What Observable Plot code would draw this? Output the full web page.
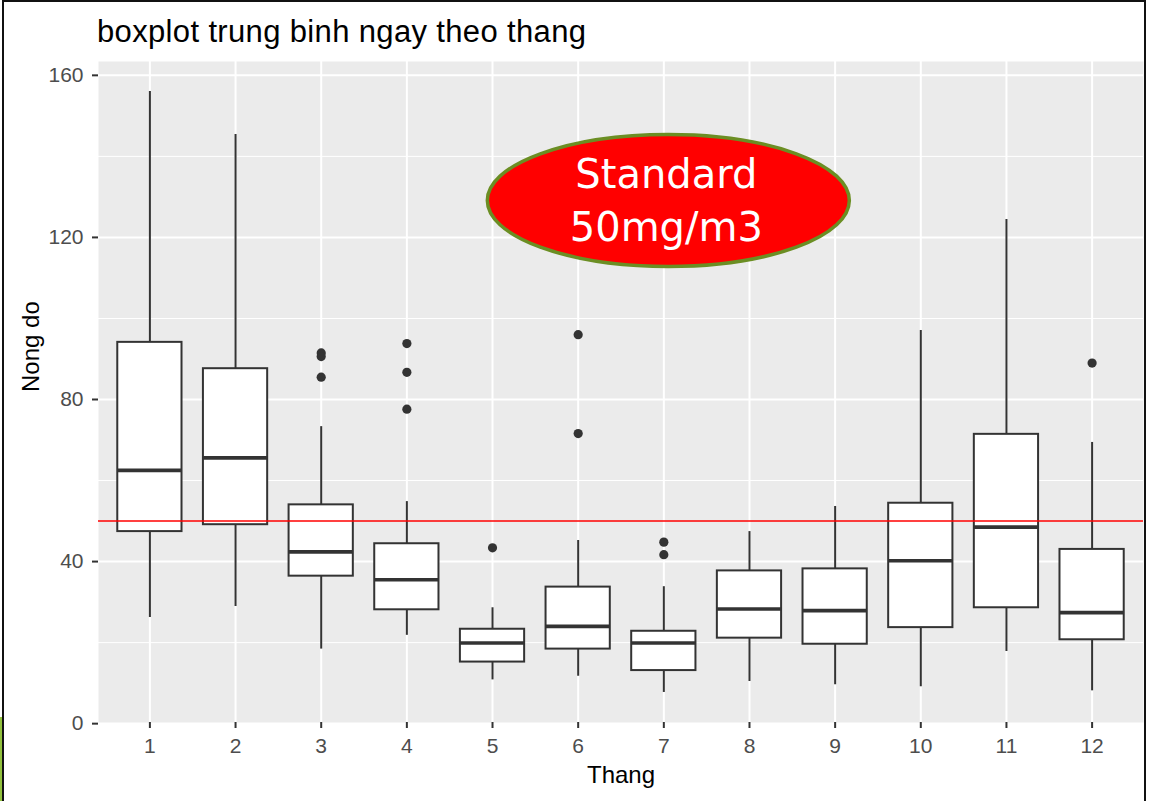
<!DOCTYPE html>
<html>
<head>
<meta charset="utf-8">
<script src="https://cdn.jsdelivr.net/npm/d3@7"></script>
<script src="https://cdn.jsdelivr.net/npm/@observablehq/plot@0.6"></script>
<style>
  html, body { margin: 0; padding: 0; background: #fff; }
  #wrap { position: relative; width: 1150px; height: 801px; overflow: hidden; background: #fff; }
  #chart { position: absolute; left: 0; top: 0; }
  #title { position: absolute; left: 97px; top: 16px; font-family: "Liberation Sans", Arial, sans-serif;
           font-size: 31px; line-height: 31px; letter-spacing: 0.35px; color: #000; white-space: nowrap; }
  #border { position: absolute; left: 2px; top: 0; width: 1144px; height: 801px;
            border-top: 2px solid #111; border-left: 2px solid #111; border-right: 2px solid #111; box-sizing: border-box; pointer-events: none; }
  #sliver { position: absolute; left: 0; top: 717px; width: 2px; height: 84px; background: #92C13E; }
</style>
</head>
<body>
<div id="wrap">
  <div id="chart"></div>
  <div id="title">boxplot trung binh ngay theo thang</div>
  <div id="border"></div>
  <div id="sliver"></div>
</div>
<script>
// ---- data ----
const months = ["1","2","3","4","5","6","7","8","9","10","11","12"];
const whiskerLow  = [26.2, 28.9, 18.4, 21.8, 10.8, 11.7,  7.7, 10.4,  9.6,  9.1, 17.8,  8.1];
const q1          = [47.4, 49.1, 36.4, 28.1, 15.2, 18.4, 13.1, 21.1, 19.6, 23.7, 28.6, 20.7];
const median      = [62.5, 65.6, 42.4, 35.5, 19.9, 24.0, 19.9, 28.3, 27.9, 40.2, 48.5, 27.4];
const q3          = [94.1, 87.6, 54.0, 44.4, 23.3, 33.7, 22.8, 37.7, 38.2, 54.4, 71.4, 43.0];
const whiskerHigh = [156.0, 145.4, 73.3, 54.8, 28.6, 45.2, 33.8, 47.4, 53.6, 97.0, 124.4, 69.4];
const outlierMonth = ["3","3","3","4","4","4","5","6","6","7","7","12"];
const outlierValue = [91.5, 90.6, 85.5, 93.8, 86.7, 77.6, 43.4, 96.0, 71.6, 44.8, 41.7, 89.0];
const standardLevel = [50];
const yTicks = [0, 40, 80, 120, 160];
const yMinorGrid = [20, 60, 100, 140];
const calloutLines = ["Standard", "50mg/m3"];
const calloutMonth = "7";
const calloutValue = 129;

const boxes = months.map((m, i) => ({month: m, lo: whiskerLow[i], q1: q1[i], med: median[i], q3: q3[i], hi: whiskerHigh[i]}));
const outliers = outlierMonth.map((m, i) => ({month: m, value: outlierValue[i]}));

// ggplot-like 5% expansion of the continuous scale
const allVals = whiskerLow.concat(whiskerHigh, outlierValue);
const vmin = d3.min(allVals), vmax = d3.max(allVals), pad = (vmax - vmin) * 0.05;

const dark = "#333333";
const plot = Plot.plot({
  width: 1150,
  height: 801,
  marginLeft: 98,
  marginRight: 7,
  marginTop: 61,
  marginBottom: 79,
  style: {fontFamily: "'Liberation Sans', Arial, sans-serif", background: "transparent", overflow: "visible"},
  x: {type: "band", domain: months, paddingInner: 0.25, paddingOuter: 0.225, align: 0.5, round: false},
  y: {domain: [vmin - pad, vmax + pad]},
  marks: [
    Plot.frame({fill: "#EBEBEB", stroke: "none"}),
    Plot.ruleY(yMinorGrid, {stroke: "#fff", strokeWidth: 1}),
    Plot.ruleY(yTicks.filter(t => t >= vmin - pad && t <= vmax + pad), {stroke: "#fff", strokeWidth: 2}),
    Plot.ruleX(months, {stroke: "#fff", strokeWidth: 2}),
    Plot.ruleX(boxes, {x: "month", y1: "lo", y2: "hi", stroke: dark, strokeWidth: 2}),
    Plot.barY(boxes, {x: "month", y1: "q1", y2: "q3", fill: "#fff", stroke: dark, strokeWidth: 2}),
    Plot.tickY(boxes, {x: "month", y: "med", stroke: dark, strokeWidth: 3.6}),
    Plot.dot(outliers, {x: "month", y: "value", r: 4.6, fill: dark, stroke: "none"}),
    Plot.ruleY(standardLevel, {stroke: "#FF0000", strokeWidth: 1.5}),
    Plot.axisX({label: null, tickSize: 6, tickPadding: 10, fontSize: 21, fill: "#4D4D4D", stroke: dark, strokeWidth: 2}),
    Plot.axisY({ticks: yTicks, label: null, tickSize: 6, tickPadding: 9, fontSize: 21, fill: "#4D4D4D", stroke: dark, strokeWidth: 2}),
    Plot.text(["Thang"], {frameAnchor: "bottom", dy: 53, fontSize: 24, fill: "#000", lineAnchor: "middle"}),
    Plot.text(["Nong do"], {frameAnchor: "left", dx: -67, rotate: -90, fontSize: 24, fill: "#000", lineAnchor: "middle"})
  ]
});
document.getElementById("chart").appendChild(plot);

// callout annotation, positioned through the plot's scales
const sx = plot.scale("x"), sy = plot.scale("y");
const cx = sx.apply(calloutMonth) + sx.bandwidth / 2 + 5;
const cy = sy.apply(calloutValue);
const g = d3.select(plot).append("g");
g.append("ellipse").attr("cx", cx).attr("cy", cy).attr("rx", 181).attr("ry", 66)
  .attr("fill", "#FF0000").attr("stroke", "#6B8E23").attr("stroke-width", 3.5);
g.selectAll("text.callout").data(calloutLines).join("text")
  .attr("class", "callout")
  .attr("x", cx - 2)
  .attr("y", (d, i) => cy - 12 + i * 53)
  .attr("text-anchor", "middle")
  .attr("fill", "#fff")
  .style("font-family", "'DejaVu Sans', sans-serif")
  .style("font-size", "40px")
  .text(d => d);
</script>
</body>
</html>
